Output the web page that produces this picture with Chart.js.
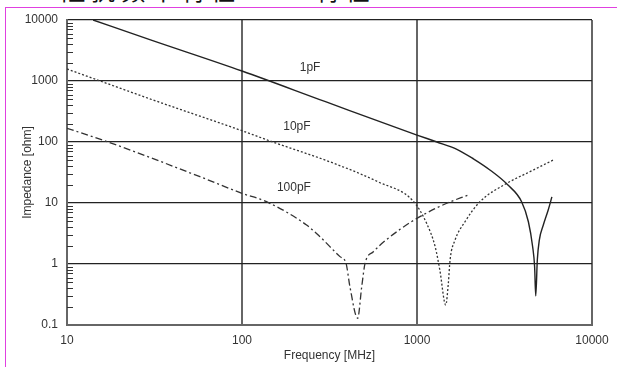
<!DOCTYPE html>
<html lang="zh">
<head>
<meta charset="UTF-8">
<title>Impedance vs Frequency</title>
<script src="https://cdn.jsdelivr.net/npm/chart.js@4/dist/chart.umd.min.js"></script>
<style>
  body { margin: 0; background: #fff; }
  #wrap { position: relative; width: 617px; height: 367px; overflow: hidden; }
  #frame { position: absolute; left: 5px; top: 7px; width: 700px; height: 400px;
           border-top: 1px solid #e040e0; border-left: 1px solid #e040e0; }
  #head { position: absolute; left: 18px; top: -22px; font: 24px "Noto Sans CJK SC";
          line-height: 24px; letter-spacing: 6px; color: #111; white-space: nowrap; }
  #myChart { position: absolute; left: 0; top: 0; }
</style>
</head>
<body>
<div id="wrap">
  <div id="frame"></div>
  <div id="head">3.  阻抗频率特性 – C 特性</div>
  <canvas id="myChart" width="617" height="367"></canvas>
</div>

<script type="text/javascript">
// values (frequency in MHz, impedance in ohm)
const freq1pF = [14.1, 30, 100, 300, 1000, 1300, 1690, 2100, 2610, 3310, 3960, 4330, 4580, 4700, 4770, 4870, 5000, 5270, 5620, 5900];
const imp1pF = [10000, 4730, 1460, 458, 130, 100, 76, 53, 34.8, 19.7, 10.5, 4.93, 1.92, 0.9, 0.3, 1.16, 2.47, 4.35, 7.67, 12.6];

const freq10pF = [10, 31, 100, 150, 331, 600, 950, 1135, 1270, 1350, 1460, 1510, 1545, 1650, 1880, 2290, 3260, 4420, 6010];
const imp10pF = [1574, 489, 153, 100, 45.3, 22.2, 10.8, 4.64, 1.92, 0.8, 0.213, 0.48, 1.16, 2.47, 4.93, 10.5, 21, 32.6, 50.7];

const freq100pF = [10, 17.2, 57.5, 100, 138, 234, 279, 363, 393, 414, 458, 483, 505, 563, 800, 1080, 1480, 1960];
const imp100pF = [168, 100, 27, 14.4, 10.5, 4.35, 2.8, 1.32, 1.03, 0.42, 0.129, 0.42, 1.03, 1.59, 3.7, 6.35, 9.9, 13.5];

const xTicks = [10, 100, 1000, 10000];
const yTicks = [0.1, 1, 10, 100, 1000, 10000];

// curve names written inside the plot, anchored at (MHz, ohm)
const curveNames = ['1pF', '10pF', '100pF'];
const nameFreq = [245, 206, 198];
const nameImp = [1633, 176, 17.6];

const pts = (xs, ys) => xs.map((x, i) => ({ x: x, y: ys[i] }));
const onlyDecades = (list) => s => { s.ticks = list.map(v => ({ value: v, major: true })); };

const minorTicks = {
  id: 'minorTicks',
  beforeDatasetsDraw(chart) {
    const c = chart.ctx, y = chart.scales.y, left = chart.chartArea.left;
    c.save();
    c.strokeStyle = '#333';
    c.lineWidth = 1;
    for (let d = 0.1; d < 5000; d *= 10) {
      for (let k = 2; k <= 9; k++) {
        const py = Math.round(y.getPixelForValue(k * d)) + 0.5;
        c.beginPath();
        c.moveTo(left, py);
        c.lineTo(left + 6, py);
        c.stroke();
      }
    }
    c.restore();
  }
};

const curveLabels = {
  id: 'curveLabels',
  afterDatasetsDraw(chart) {
    const c = chart.ctx, sx = chart.scales.x, sy = chart.scales.y;
    c.save();
    c.font = '12px "Liberation Sans", Arial, sans-serif';
    c.fillStyle = '#333';
    c.textAlign = 'center';
    c.textBaseline = 'middle';
    curveNames.forEach((n, i) => {
      c.fillText(n, sx.getPixelForValue(nameFreq[i]), sy.getPixelForValue(nameImp[i]));
    });
    c.restore();
  }
};

const ctx = document.getElementById('myChart').getContext('2d');
const tickFont = { family: '"Liberation Sans", Arial, sans-serif', size: 12 };

new Chart(ctx, {
  type: 'line',
  data: {
    datasets: [{
      label: '1pF',
      data: pts(freq1pF, imp1pF),
      borderColor: '#222',
      borderWidth: 1.4,
      cubicInterpolationMode: 'monotone'
    }, {
      label: '10pF',
      data: pts(freq10pF, imp10pF),
      borderColor: '#333',
      borderWidth: 1.3,
      borderDash: [2, 2],
      cubicInterpolationMode: 'monotone'
    }, {
      label: '100pF',
      data: pts(freq100pF, imp100pF),
      borderColor: '#333',
      borderWidth: 1.3,
      borderDash: [7, 3, 2, 3],
      cubicInterpolationMode: 'monotone'
    }]
  },
  options: {
    responsive: false,
    animation: false,
    events: [],
    layout: { padding: { left: 7, top: 20, right: 25, bottom: 0 } },
    elements: { point: { radius: 0 } },
    plugins: { legend: { display: false }, tooltip: { enabled: false } },
    scales: {
      x: {
        type: 'logarithmic',
        min: 10,
        max: 10000,
        afterBuildTicks: onlyDecades(xTicks),
        afterFit: s => { s.height = 42; },
        grid: { color: '#666', lineWidth: 2, drawTicks: false },
        border: { color: '#666', width: 2 },
        ticks: { autoSkip: false, maxRotation: 0, padding: 8, color: '#333', font: tickFont, callback: v => String(v) },
        title: { display: true, text: 'Frequency [MHz]', color: '#333', font: tickFont, padding: { top: 0, bottom: 4 } }
      },
      y: {
        type: 'logarithmic',
        min: 0.1,
        max: 10000,
        afterBuildTicks: onlyDecades(yTicks),
        afterFit: s => { s.width = 60; },
        grid: { color: '#222', lineWidth: 1.3, drawTicks: false },
        border: { color: '#666', width: 2 },
        ticks: { autoSkip: false, padding: 9, color: '#333', font: tickFont, callback: v => String(v) },
        title: { display: true, text: 'Impedance [ohm]', color: '#333', font: tickFont, padding: { top: 13, bottom: 0 } }
      }
    }
  },
  plugins: [minorTicks, curveLabels]
});
</script>
</body>
</html>
